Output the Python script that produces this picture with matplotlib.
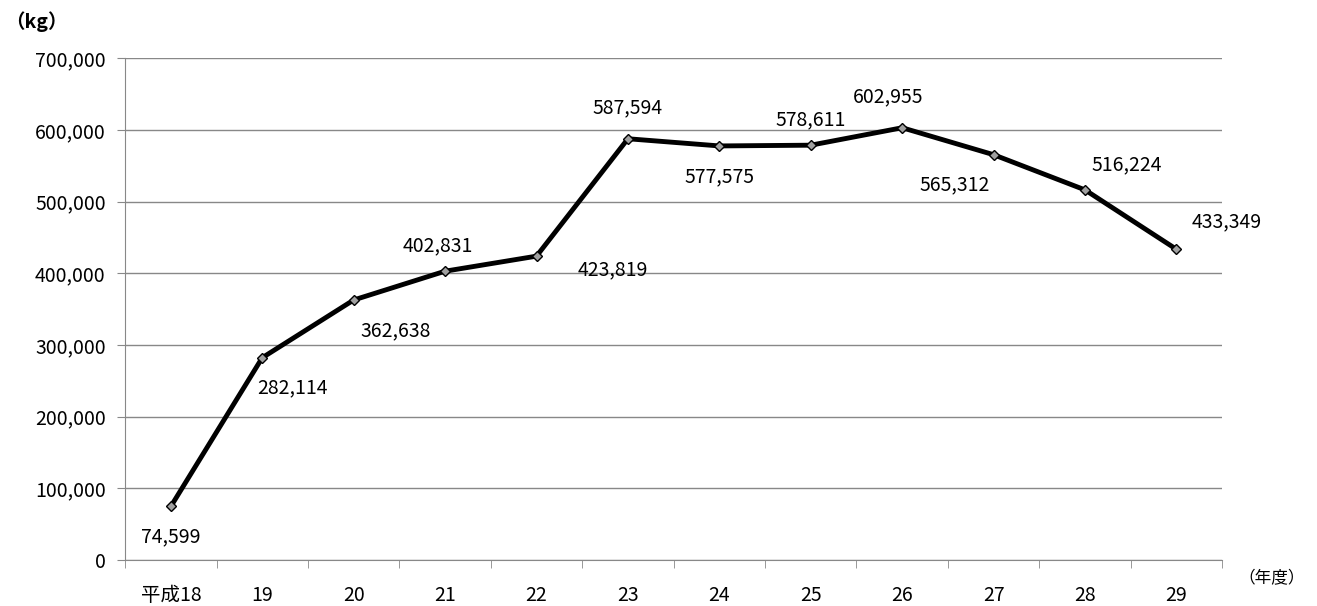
import matplotlib.pyplot as plt
from matplotlib.ticker import FuncFormatter

plt.rcParams['font.family'] = ['Noto Sans CJK JP', 'DejaVu Sans']

years = ['平成18', '19', '20', '21', '22', '23', '24', '25', '26', '27', '28', '29']
values = [74599, 282114, 362638, 402831, 423819, 587594, 577575, 578611, 602955, 565312, 516224, 433349]
# label offsets in points (dx, dy)
offsets = [(0, -22), (22, -22), (30, -22), (-5, 18), (55, -10), (0, 22),
           (0, -22), (0, 18), (-10, 22), (-28, -22), (30, 18), (36, 20)]

fig = plt.figure(figsize=(13.17, 6.06), dpi=100)
ax = fig.add_axes([0.095, 0.076, 0.833, 0.828])

x = list(range(len(years)))
ax.plot(x, values, color='black', lw=3.5, zorder=3,
        marker='D', ms=5, mfc='#a0a0a0', mec='black', mew=1)
for xi, v, (dx, dy) in zip(x, values, offsets):
    ax.annotate(f'{v:,}', (xi, v), xytext=(dx, dy), textcoords='offset points',
                ha='center', va='center', fontsize=14)

ax.set_xlim(-0.5, len(years) - 0.5)
ax.set_ylim(0, 700000)
ax.set_yticks(range(0, 700001, 100000))
ax.yaxis.set_major_formatter(FuncFormatter(lambda v, p: f'{int(v):,}'))
ax.set_xticks(x)
ax.set_xticklabels(years, fontsize=14)
ax.set_xticks([i - 0.5 for i in range(len(years) + 1)], minor=True)
ax.tick_params(axis='x', which='major', length=0, pad=18)
ax.tick_params(axis='x', which='minor', length=6, color='#888888')
ax.tick_params(axis='y', length=6, color='#888888', labelsize=14, pad=8)
ax.grid(axis='y', color='#888888', lw=1)
ax.set_axisbelow(True)
for s in ['top', 'right']:
    ax.spines[s].set_visible(False)
for s in ['left', 'bottom']:
    ax.spines[s].set_color('#888888')

fig.text(0.004, 0.965, '（kg）', fontsize=14, fontweight='bold', va='center')
fig.text(0.94, 0.045, '（年度）', fontsize=12, va='center')

fig.savefig('out.png', dpi=100)
